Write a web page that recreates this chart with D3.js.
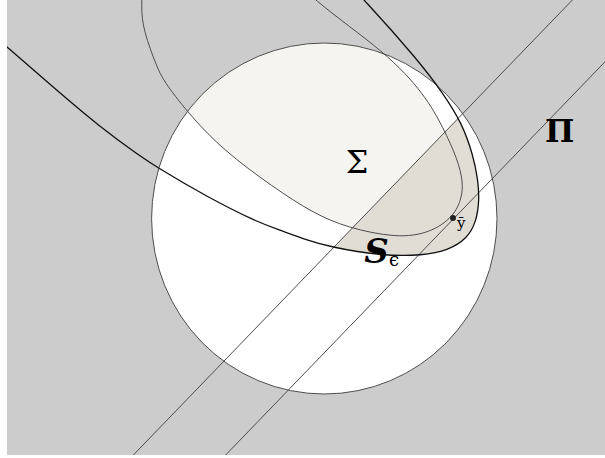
<!DOCTYPE html>
<html>
<head>
<meta charset="utf-8">
<script src="https://cdn.jsdelivr.net/npm/d3@7"></script>
<style>
  body { margin: 0; background: #fff; }
  svg { display: block; }
</style>
</head>
<body>
<script>
// everything in "ball" units: the ball is the unit circle

// Sigma boundary, closed (top part sits above the frame)
var sigmaPts = [
  [-1.061, 1.205], [-1.050, 1.387], [-0.951, 1.558], [-0.778, 1.672],
  [-0.546, 1.655], [-0.314, 1.501], [-0.071, 1.245], [0.363, 0.943],
  [0.583, 0.704], [0.687, 0.521], [0.774, 0.333], [0.803, 0.208],
  [0.797, 0.120], [0.750, 0.010], [0.612, -0.083], [0.421, -0.112],
  [0.131, -0.052], [-0.065, 0.031], [-0.297, 0.179], [-0.587, 0.390],
  [-0.795, 0.607], [-0.934, 0.789], [-0.969, 0.863], [-1.049, 1.074]
];

// S_eps boundary, open curve (both ends leave the frame)
var sEpsPts = [
  [-2.300, 1.380], [-2.052, 1.160], [-1.837, 0.977], [-1.571, 0.749],
  [-1.299, 0.521], [-1.067, 0.356], [-0.963, 0.288], [-0.679, 0.123],
  [-0.390, -0.020], [-0.257, -0.066], [-0.100, -0.123], [0.033, -0.162],
  [0.323, -0.212], [0.572, -0.212], [0.720, -0.180], [0.826, -0.115],
  [0.880, -0.020], [0.898, 0.105], [0.890, 0.220], [0.862, 0.360],
  [0.797, 0.544], [0.687, 0.715], [0.542, 0.903], [0.235, 1.245],
  [0.033, 1.444], [-0.150, 1.640]
];

// the two parallel cuts  y = slope * x + b
var cutSlope = 1.02;
var cutOffsets = [-0.22, -0.765];

var yBar = [0.745, 0.003];

var width = 605,
    height = 458;

var x = d3.scaleLinear().domain([-1, 1]).range([151.6, 497]),
    y = d3.scaleLinear().domain([-1, 1]).range([394, 43]);

var svg = d3.select('body').append('svg')
    .attr('width', width)
    .attr('height', height);

var defs = svg.append('defs');

defs.append('clipPath').attr('id', 'frame')
  .append('rect')
    .attr('x', 7).attr('y', 0)
    .attr('width', width - 7).attr('height', 455);

defs.append('clipPath').attr('id', 'ball')
  .append('ellipse')
    .attr('cx', x(0)).attr('cy', y(0))
    .attr('rx', x(1) - x(0)).attr('ry', y(0) - y(1));

// side of the first cut that holds y-bar
var half = [[-3, cutSlope * -3 + cutOffsets[0]], [3, cutSlope * 3 + cutOffsets[0]], [3, -4], [-3, -4]];
defs.append('clipPath').attr('id', 'half')
  .append('polygon')
    .attr('points', half.map(function(d) { return x(d[0]) + ',' + y(d[1]); }).join(' '));

var closedLine = d3.line()
    .x(function(d) { return x(d[0]); })
    .y(function(d) { return y(d[1]); })
    .curve(d3.curveBasisClosed);

var openLine = d3.line()
    .x(function(d) { return x(d[0]); })
    .y(function(d) { return y(d[1]); })
    .curve(d3.curveBasis);

var g = svg.append('g').attr('clip-path', 'url(#frame)');

g.append('rect')
    .attr('x', 0).attr('y', 0)
    .attr('width', width).attr('height', height)
    .attr('fill', '#cccccc');

// ball
g.append('ellipse')
    .attr('cx', x(0)).attr('cy', y(0))
    .attr('rx', x(1) - x(0)).attr('ry', y(0) - y(1))
    .attr('fill', '#ffffff');

// Sigma inside the ball
g.append('path')
    .attr('d', closedLine(sigmaPts))
    .attr('clip-path', 'url(#ball)')
    .attr('fill', '#f5f4f0');

// S_eps inside the ball, beyond the first cut
var last = sEpsPts[sEpsPts.length - 1], first = sEpsPts[0];
var sEpsArea = openLine(sEpsPts) +
    'L' + x(last[0]) + ',' + y(3) +
    'L' + x(first[0]) + ',' + y(3) + 'Z';

g.append('g')
    .attr('clip-path', 'url(#ball)')
  .append('path')
    .attr('d', sEpsArea)
    .attr('clip-path', 'url(#half)')
    .attr('fill', '#e0ddd4');

// outlines
g.append('ellipse')
    .attr('cx', x(0)).attr('cy', y(0))
    .attr('rx', x(1) - x(0)).attr('ry', y(0) - y(1))
    .attr('fill', 'none')
    .attr('stroke', '#4d4d4d')
    .attr('stroke-width', 1);

g.append('path')
    .attr('d', closedLine(sigmaPts))
    .attr('fill', 'none')
    .attr('stroke', '#4d4d4d')
    .attr('stroke-width', 1);

g.selectAll('.cut')
    .data(cutOffsets)
    .enter()
    .append('line')
    .attr('class', 'cut')
    .attr('x1', x(-3)).attr('y1', function(b) { return y(cutSlope * -3 + b); })
    .attr('x2', x(3)).attr('y2', function(b) { return y(cutSlope * 3 + b); })
    .attr('stroke', '#4d4d4d')
    .attr('stroke-width', 1);

g.append('path')
    .attr('d', openLine(sEpsPts))
    .attr('fill', 'none')
    .attr('stroke', '#111')
    .attr('stroke-width', 1.3);

g.append('circle')
    .attr('cx', x(yBar[0])).attr('cy', y(yBar[1]))
    .attr('r', 3)
    .attr('fill', '#222');

// labels
var serif = '"DejaVu Serif", "Liberation Serif", serif';

g.append('text')
    .attr('x', x(0.19)).attr('y', y(0.259))
    .attr('text-anchor', 'middle')
    .attr('font-family', serif)
    .attr('font-size', 32)
    .text('Σ');

g.append('text')
    .attr('x', x(1.362)).attr('y', y(0.436))
    .attr('text-anchor', 'middle')
    .attr('font-family', serif)
    .attr('font-size', 31)
    .attr('font-weight', 'bold')
    .text('Π');

var sLab = g.append('text')
    .attr('x', x(0.232)).attr('y', y(-0.254))
    .attr('font-family', serif);
sLab.append('tspan')
    .attr('font-size', 34)
    .attr('font-weight', 'bold')
    .attr('font-style', 'italic')
    .text('S');
sLab.append('tspan')
    .attr('font-size', 18)
    .attr('dy', 3)
    .text('ϵ');

g.append('text')
    .attr('x', x(yBar[0]) + 4).attr('y', y(yBar[1]) + 10)
    .attr('font-family', serif)
    .attr('font-size', 15)
    .text('ȳ');
</script>
</body>
</html>
